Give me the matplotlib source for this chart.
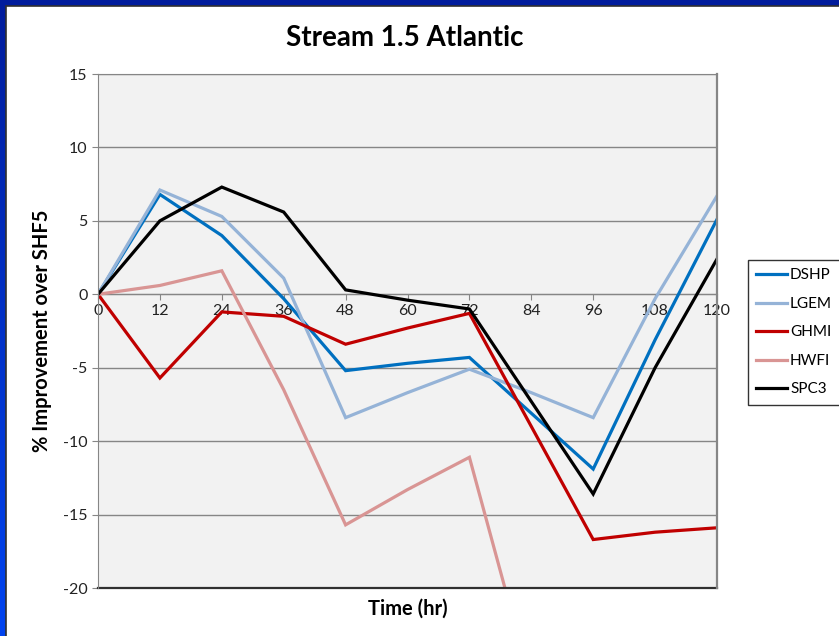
import matplotlib
matplotlib.use("Agg")
import matplotlib.pyplot as plt
import numpy as np
from matplotlib.patches import Rectangle

plt.rcParams["font.family"] = ["Lato", "DejaVu Sans"]
plt.rcParams["axes.unicode_minus"] = False

# Forecast lead time (hr)
hours = [0, 12, 24, 36, 48, 60, 72, 84, 96, 108, 120]

# % improvement over SHF5 per model
dshp = [0, 6.8, 4.0, -0.3, -5.2, -4.7, -4.3, -8.1, -11.9, -3.1, 5.1]
lgem = [0, 7.1, 5.3, 1.1, -8.4, -6.7, -5.1, -6.7, -8.4, -0.3, 6.7]
ghmi = [0, -5.7, -1.2, -1.5, -3.4, -2.3, -1.3, -9.0, -16.7, -16.2, -15.9]
hwfi = [0, 0.6, 1.6, -6.5, -15.7, -13.3, -11.1, -26.6, np.nan, np.nan, np.nan]
spc3 = [0, 5.0, 7.3, 5.6, 0.3, -0.4, -1.0, -7.3, -13.6, -5.0, 2.4]

series = [
    ("DSHP", dshp, "#0070C0"),
    ("LGEM", lgem, "#95B3D7"),
    ("GHMI", ghmi, "#C00000"),
    ("HWFI", hwfi, "#D99594"),
    ("SPC3", spc3, "black"),
]

W, H = 839, 636
fig = plt.figure(figsize=(W / 100, H / 100), dpi=100)

# slide background: blue gradient, darker at the top
bg = fig.add_axes([0, 0, 1, 1], zorder=-10)
grad = np.linspace(0, 1, 256).reshape(-1, 1)
bg.imshow(grad, aspect="auto", extent=[0, 1, 0, 1], origin="upper",
          cmap=matplotlib.colors.LinearSegmentedColormap.from_list(
              "slide", ["#001C9C", "#0044F0"]))
bg.set_axis_off()

# white slide panel with a thin dark edge on the top/left
bg.add_patch(Rectangle((6 / W, -0.01), 1, 1 - 6 / H + 0.01, transform=bg.transAxes,
                       facecolor="white", edgecolor="#303030", lw=1.2, zorder=2))

ax = fig.add_axes([98 / W, 1 - 588 / H, (717 - 98) / W, (588 - 74) / H])
ax.set_facecolor("#F2F2F2")

for name, vals, col in series:
    ax.plot(hours, vals, color=col, lw=2.3, label=name, solid_joinstyle="miter")

ax.set_xlim(0, 120)
ax.set_ylim(-20, 15)
ax.set_xticks(hours)
ax.set_yticks(np.arange(-20, 16, 5))
ax.yaxis.grid(True, color="#868686", lw=1)
ax.set_axisbelow(True)

# category axis crosses at zero
ax.spines["bottom"].set_position(("data", 0))
ax.spines["bottom"].set_color("#868686")
ax.spines["bottom"].set_zorder(1)
for s in ("left", "top", "right"):
    ax.spines[s].set_color("#868686")
ax.spines["right"].set_linewidth(1.6)
ax.axhline(-20, color="#303030", lw=1.6, clip_on=False)

ax.tick_params(axis="x", direction="out", length=4, color="#868686",
               labelsize=11.5, pad=3, labelcolor="#222222")
ax.tick_params(axis="y", direction="out", length=4, color="#868686",
               labelsize=11.5, labelcolor="#222222")

ax.set_xlabel("Time (hr)", fontsize=14.5, fontweight="bold")
ax.xaxis.set_label_coords(0.5, -0.02)
ax.set_ylabel("% Improvement over SHF5", fontsize=14.5, fontweight="bold")
ax.yaxis.set_label_coords(-0.074, 0.5)

fig.text(405 / W, 1 - 38 / H, "Stream 1.5 Atlantic", ha="center", va="center",
         fontsize=20, fontweight="bold")

leg = ax.legend(loc="upper left", bbox_to_anchor=(748 / W, 1 - 260 / H),
                bbox_transform=fig.transFigure, fontsize=11, frameon=True,
                fancybox=False, edgecolor="black", handlelength=2.0,
                handletextpad=0.2, labelspacing=0.95, borderpad=0.55,
                borderaxespad=0)
leg.get_frame().set_linewidth(1.0)

fig.savefig("out.png", dpi=100)
